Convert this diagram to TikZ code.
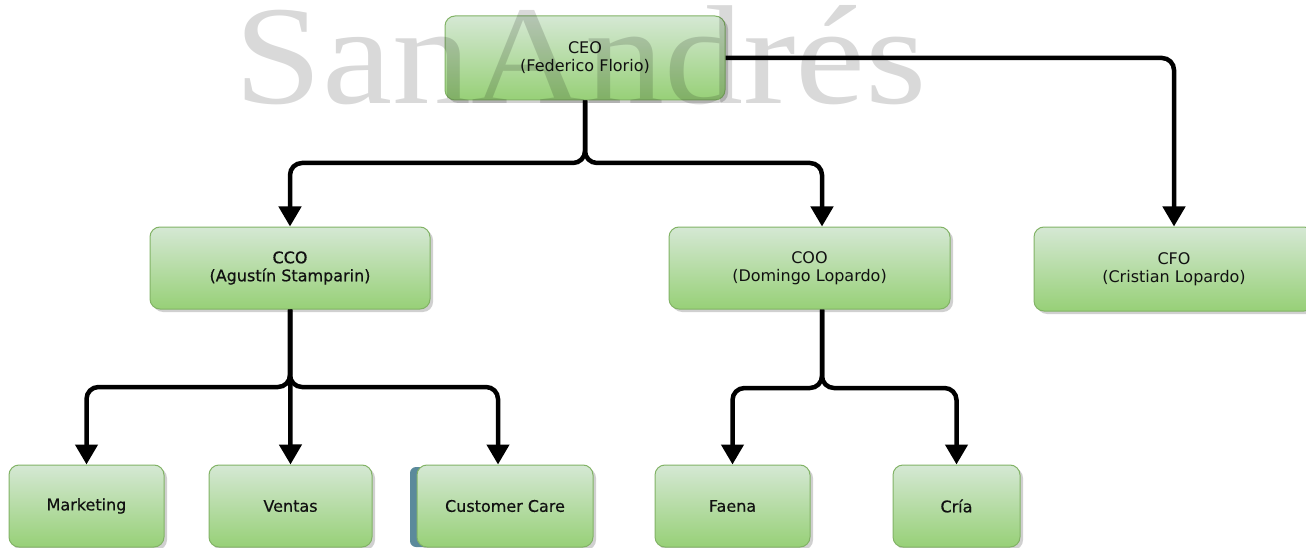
\documentclass[tikz,border=0pt]{standalone}
\usepackage{fontspec}
\setmainfont{DejaVu Sans}
\newfontfamily\wmfont{Liberation Serif}
\newfontfamily\boldish[FakeBold=0.5]{DejaVu Sans}
\usetikzlibrary{arrows.meta,shadows}
\definecolor{gtop}{HTML}{D5E8D4}
\definecolor{gbot}{HTML}{97D077}
\definecolor{gline}{HTML}{82B366}
\definecolor{txt}{HTML}{111111}
\definecolor{edgecol}{HTML}{5B8A9B}
\begin{document}
\begin{tikzpicture}[x=1pt,y=-1pt,
 box/.style={draw=gline, line width=1pt, rounded corners=10pt, top color=gtop, bottom color=gbot,
   align=center, inner sep=0pt, text=txt, font=\fontsize{16}{18}\selectfont,
   drop shadow={shadow xshift=3pt, shadow yshift=-3pt, opacity=0.3, fill=black!60}},
 conn/.style={line width=4.5pt, rounded corners=12pt, -{Triangle[width=22pt,length=20pt]}},
 wm/.style={anchor=base west, inner sep=0pt, text=black, text opacity=0.15,
   font=\wmfont\fontsize{141}{141}\selectfont}]
\useasboundingbox (0,0) rectangle (1306,548);
\fill[white] (0,0) rectangle (1306,548);

% top level
\node[box, minimum width=280pt, minimum height=84pt] (ceo) at (585,58) {CEO\\(Federico Florio)};
% second level
\node[box, minimum width=280pt, minimum height=82pt] (cco) at (290,268) {\boldish CCO\\\boldish (Agustín Stamparin)};
\node[box, minimum width=281pt, minimum height=82pt] (coo) at (809.5,268) {COO\\(Domingo Lopardo)};
\node[box, minimum width=280pt, minimum height=84pt] (cfo) at (1174,269) {CFO\\(Cristian Lopardo)};
% third level
\node[box, minimum width=155pt, minimum height=82pt] (mkt) at (86.5,506) {\boldish Marketing};
\node[box, minimum width=163pt, minimum height=82pt] (ven) at (290.5,506) {\boldish Ventas};
\fill[edgecol, rounded corners=6pt] (410,467) rectangle (432,547);
\node[box, minimum width=176pt, minimum height=82pt] (cc) at (505,506) {\boldish Customer Care};
\node[box, minimum width=155pt, minimum height=82pt] (fae) at (732.5,506) {\boldish Faena};
\node[box, minimum width=127pt, minimum height=82pt] (cria) at (956.5,506) {\boldish Cría};

% junctions
\coordinate (j1) at (585,163);
\coordinate (j2) at (290,387);
\coordinate (j3) at (822,388);

% connectors
\draw[conn] (ceo.south) -- (j1) -| (cco.north);
\draw[conn] (ceo.south) -- (j1) -| ([xshift=12.5pt]coo.north);
\draw[conn] (ceo.east) -| (cfo.north);
\draw[conn] (cco.south) -- (j2) -| (mkt.north);
\draw[conn] (cco.south) -- (ven.north);
\draw[conn] (cco.south) -- (j2) -| ([xshift=-7pt]cc.north);
\draw[conn] ([xshift=12.5pt]coo.south) -- (j3) -| (fae.north);
\draw[conn] ([xshift=12.5pt]coo.south) -- (j3) -| (cria.north);

% watermark
\node[wm] (mark) at (234,104) {\scalebox{1.12}[1]{SanAndrés}};
\end{tikzpicture}
\end{document}
